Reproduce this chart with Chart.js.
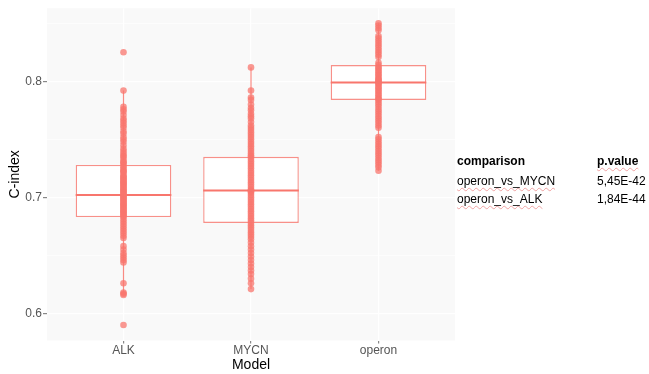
<!DOCTYPE html>
<html>
<head>
<meta charset="utf-8">
<title>C-index by model</title>
<script src="https://cdn.jsdelivr.net/npm/chart.js@4.4.1/dist/chart.umd.min.js"></script>
<style>
  html, body { margin: 0; padding: 0; background: #ffffff; }
  #wrap { position: relative; width: 649px; height: 374px; overflow: hidden; }
  #c { position: absolute; left: 0; top: 0; }
  .cell {
    position: absolute;
    font-family: "Liberation Sans", Arial, sans-serif;
    font-size: 12px;
    line-height: 14px;
    color: #000;
    white-space: nowrap;
  }
  .hd { font-weight: bold; }
  .sq {
    text-decoration: underline wavy rgba(232, 110, 110, 0.6);
    text-decoration-thickness: 1px;
    text-underline-offset: 2px;
  }
</style>
</head>
<body>
<div id="wrap">
  <canvas id="c" width="649" height="374" style="width:649px;height:374px"></canvas>
</div>
<script>
// Models on the x axis
const categories = ["ALK", "MYCN", "operon"];

// C-index of every resample, per model
const alkValues = [
  0.825, 0.792, 0.778, 0.776, 0.774, 0.771, 0.768, 0.766, 0.764, 0.762,
  0.760, 0.757, 0.755, 0.752, 0.750, 0.748, 0.745, 0.742, 0.740, 0.738,
  0.736, 0.735, 0.733, 0.731, 0.730, 0.729, 0.727, 0.726, 0.724, 0.723,
  0.722, 0.721, 0.719, 0.718, 0.717, 0.716, 0.715, 0.714, 0.713, 0.712,
  0.711, 0.710, 0.709, 0.708, 0.707, 0.706, 0.705, 0.704, 0.703, 0.702,
  0.701, 0.700, 0.699, 0.698, 0.697, 0.696, 0.695, 0.694, 0.693, 0.692,
  0.691, 0.690, 0.689, 0.688, 0.687, 0.686, 0.685, 0.684, 0.683, 0.681,
  0.679, 0.677, 0.675, 0.673, 0.671, 0.669, 0.667, 0.665, 0.658, 0.655,
  0.652, 0.650, 0.648, 0.646, 0.644, 0.626, 0.618, 0.617, 0.616, 0.590
];
const mycnValues = [
  0.812, 0.792, 0.786, 0.784, 0.780, 0.777, 0.775, 0.772, 0.770, 0.768,
  0.765, 0.762, 0.760, 0.758, 0.756, 0.754, 0.752, 0.750, 0.748, 0.746,
  0.744, 0.742, 0.740, 0.738, 0.736, 0.735, 0.733, 0.731, 0.729, 0.727,
  0.725, 0.723, 0.721, 0.719, 0.717, 0.715, 0.713, 0.711, 0.709, 0.707,
  0.706, 0.705, 0.704, 0.702, 0.700, 0.698, 0.696, 0.694, 0.692, 0.690,
  0.688, 0.686, 0.684, 0.682, 0.680, 0.678, 0.676, 0.674, 0.672, 0.670,
  0.668, 0.666, 0.664, 0.661, 0.658, 0.655, 0.652, 0.649, 0.646, 0.643,
  0.640, 0.637, 0.634, 0.630, 0.626, 0.621
];
const operonValues = [
  0.850, 0.848, 0.846, 0.844, 0.839, 0.837, 0.835, 0.833, 0.831, 0.829,
  0.827, 0.825, 0.823, 0.821, 0.816, 0.814, 0.812, 0.811, 0.809, 0.808,
  0.806, 0.805, 0.803, 0.802, 0.801, 0.800, 0.799, 0.798, 0.797, 0.795,
  0.794, 0.792, 0.791, 0.789, 0.788, 0.786, 0.785, 0.784, 0.782, 0.780,
  0.778, 0.776, 0.774, 0.772, 0.770, 0.768, 0.766, 0.764, 0.762, 0.760,
  0.752, 0.750, 0.748, 0.746, 0.744, 0.742, 0.740, 0.738, 0.736, 0.734,
  0.732, 0.730, 0.728, 0.726, 0.723
];
const seriesValues = [alkValues, mycnValues, operonValues];

// Box statistics per model
const boxQ1        = [0.683, 0.678, 0.784];
const boxMedian    = [0.702, 0.706, 0.799];
const boxQ3        = [0.728, 0.735, 0.814];
const whiskerLow   = [0.616, 0.621, 0.723];
const whiskerHigh  = [0.792, 0.812, 0.850];

// Axis ticks
const yMajorTicks = [0.6, 0.7, 0.8];
const yMinorTicks = [0.65, 0.75, 0.85];

// Pairwise comparison table
const comparisons = ["operon_vs_MYCN", "operon_vs_ALK"];
const pValues     = ["5,45E-42", "1,84E-44"];

const RED = "#F8766D";
const BOX_WIDTH = 0.75;   // in category units
const FONT = '"Liberation Sans", Arial, sans-serif';

// ---------- datasets ----------
const pointData = [];
seriesValues.forEach((vals, i) => vals.forEach(v => pointData.push({ x: i + 1, y: v })));

const datasets = [];

datasets.push({
  type: "line",
  label: "points",
  data: pointData,
  showLine: false,
  pointRadius: 3.3,
  pointBackgroundColor: "rgba(248,118,109,0.75)",
  pointBorderWidth: 0,
  order: 0
});

categories.forEach((c, i) => {
  datasets.push({
    type: "line",
    label: "median " + c,
    data: [
      { x: i + 1 - BOX_WIDTH / 2, y: boxMedian[i] },
      { x: i + 1 + BOX_WIDTH / 2, y: boxMedian[i] }
    ],
    borderColor: RED,
    borderWidth: 2,
    pointRadius: 0,
    order: 1
  });
  datasets.push({
    type: "line",
    label: "whisker " + c,
    data: [
      { x: i + 1, y: whiskerLow[i] },
      { x: i + 1, y: whiskerHigh[i] }
    ],
    borderColor: "rgba(248,118,109,0.85)",
    borderWidth: 1.2,
    pointRadius: 0,
    order: 4
  });
});

datasets.push({
  type: "bar",
  label: "box",
  data: categories.map((c, i) => ({ x: i + 1, y: [boxQ1[i], boxQ3[i]] })),
  backgroundColor: "#ffffff",
  borderColor: "rgba(248,118,109,0.8)",
  borderWidth: 1.4,
  borderSkipped: false,
  barPercentage: BOX_WIDTH,
  categoryPercentage: 1,
  order: 3
});

// Panel background behind the plotting area
const panelBackground = {
  id: "panelBackground",
  beforeDraw(chart) {
    const { ctx, chartArea: a } = chart;
    ctx.save();
    ctx.fillStyle = "#F9F9F9";
    ctx.fillRect(a.left, a.top, a.right - a.left, a.bottom - a.top);
    ctx.restore();
  }
};

const isMajor = v => yMajorTicks.some(t => Math.abs(t - v) < 1e-9);

new Chart(document.getElementById("c"), {
  type: "bar",
  data: { datasets },
  plugins: [panelBackground],
  options: {
    responsive: false,
    animation: false,
    devicePixelRatio: 1,
    events: [],
    layout: { padding: { left: 0, top: 8, right: 194, bottom: 0 } },
    plugins: { legend: { display: false }, tooltip: { enabled: false } },
    scales: {
      x: {
        type: "linear",
        min: 0.4,
        max: 3.6,
        offset: false,
        border: { display: false },
        grid: {
          offset: false,
          color: "#ffffff",
          lineWidth: 1.2,
          drawTicks: true,
          tickLength: 3,
          tickColor: "#888"
        },
        afterBuildTicks(scale) {
          scale.ticks = categories.map((c, i) => ({ value: i + 1 }));
        },
        ticks: {
          autoSkip: false,
          maxRotation: 0,
          padding: 0,
          color: "#555",
          font: { family: FONT, size: 12 },
          callback: v => categories[Math.round(v) - 1]
        },
        title: {
          display: true,
          text: "Model",
          color: "#000",
          font: { family: FONT, size: 14 },
          padding: { top: 0, bottom: 0 }
        },
        afterFit(scale) { scale.height = 33.5; }
      },
      y: {
        type: "linear",
        min: 0.5767,
        max: 0.863,
        beginAtZero: false,
        border: { display: false },
        grid: {
          color: "#ffffff",
          lineWidth: ctx => (ctx.tick && isMajor(ctx.tick.value) ? 1.2 : 0.6),
          drawTicks: true,
          tickLength: 4,
          tickColor: ctx => (ctx.tick && isMajor(ctx.tick.value) ? "#888" : "rgba(0,0,0,0)")
        },
        afterBuildTicks(scale) {
          scale.ticks = yMajorTicks.concat(yMinorTicks)
            .sort((a, b) => a - b)
            .map(v => ({ value: v }));
        },
        ticks: {
          autoSkip: false,
          padding: 1,
          color: "#555",
          font: { family: FONT, size: 12 },
          callback: v => (isMajor(v) ? String(yMajorTicks.find(t => Math.abs(t - v) < 1e-9)) : "")
        },
        title: {
          display: true,
          text: "C-index",
          color: "#000",
          font: { family: FONT, size: 14 },
          padding: { top: 7, bottom: 0 }
        },
        afterFit(scale) { scale.width = 47; }
      }
    }
  }
});

// Comparison table beside the plot
const wrap = document.getElementById("wrap");
function addCell(text, left, top, cls) {
  const d = document.createElement("div");
  d.className = "cell " + (cls || "");
  d.style.left = left + "px";
  d.style.top = top + "px";
  d.textContent = text;
  wrap.appendChild(d);
}
addCell("comparison", 457, 154, "hd");
addCell("p.value", 597, 154, "hd sq");
comparisons.forEach((c, i) => {
  addCell(c, 457, 174 + i * 18, "sq");
  addCell(pValues[i], 597, 174 + i * 18, "");
});
</script>
</body>
</html>
